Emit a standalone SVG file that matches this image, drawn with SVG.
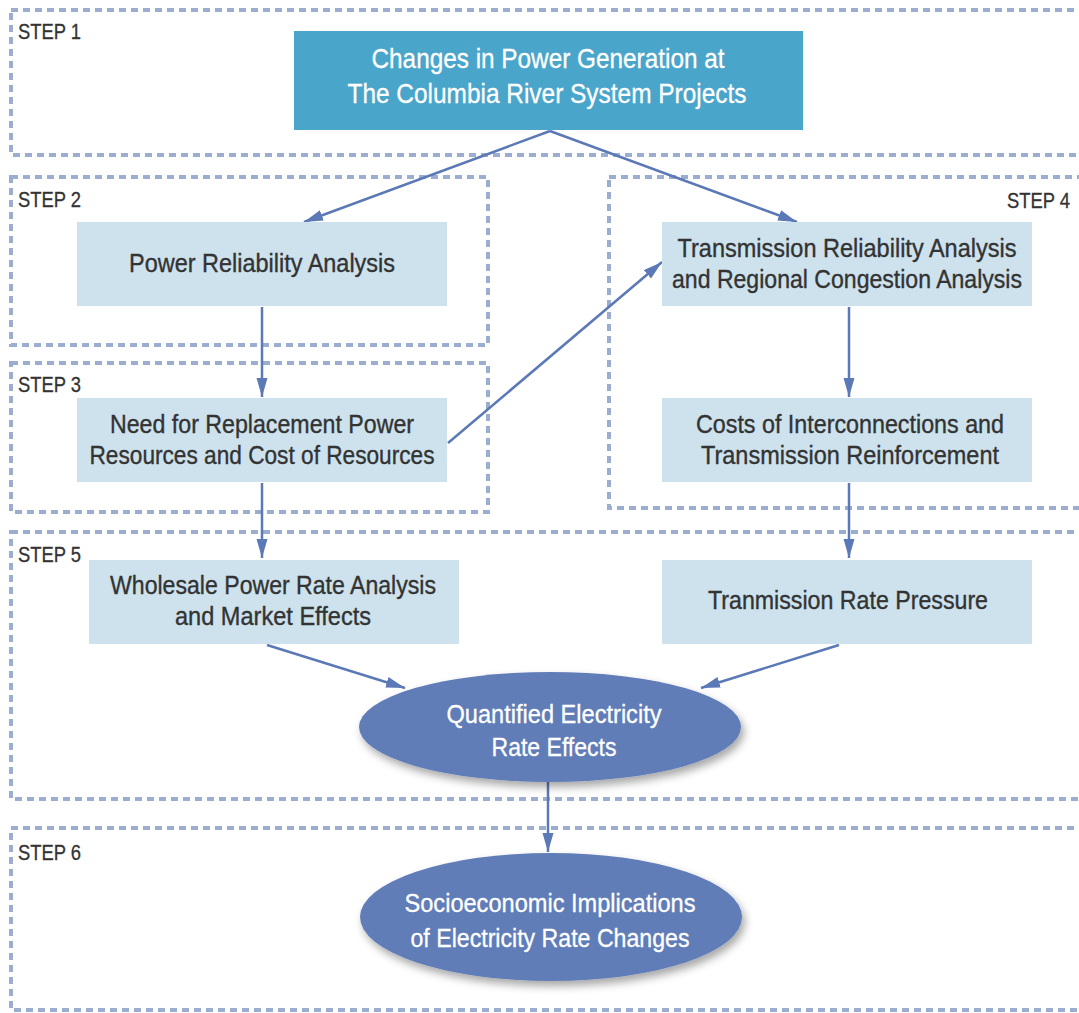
<svg xmlns="http://www.w3.org/2000/svg" width="1079" height="1013" viewBox="0 0 1079 1013">
<defs>
<style>
.step{fill:none;stroke:#9caed0;stroke-width:4;stroke-dasharray:7 5}
.lbl{font-family:"Liberation Sans",Arial,sans-serif;font-size:22px;fill:#333;stroke:#333;stroke-width:0.3}
.box{fill:#cde2ed}
.bt{font-family:"Liberation Sans",Arial,sans-serif;font-size:25px;fill:#333;stroke:#333;stroke-width:0.35;text-anchor:middle}
.wt{font-family:"Liberation Sans",Arial,sans-serif;font-size:26px;fill:#fff;stroke:#fff;stroke-width:0.3;text-anchor:middle}
.ht{font-family:"Liberation Sans",Arial,sans-serif;font-size:28px;fill:#fff;stroke:#fff;stroke-width:0.3;text-anchor:middle}
.ell{fill:#607db8}
.con{fill:none;stroke:#5b79b6;stroke-width:2.5;marker-end:url(#ah)}
</style>
<marker id="ah" markerUnits="userSpaceOnUse" markerWidth="20" markerHeight="12" refX="19" refY="5.5" orient="auto">
<path d="M0,0 L19,5.5 L0,11 z" fill="#5b79b6"/>
</marker>
<filter id="sh" x="-20%" y="-20%" width="140%" height="150%">
<feDropShadow dx="3" dy="5" stdDeviation="4" flood-color="#000" flood-opacity="0.35"/>
</filter>
</defs>
<rect width="1079" height="1013" fill="#fff"/>
<g id="steps">
<rect class="step" x="11" y="10" width="1090" height="145"/>
<rect class="step" x="11" y="177" width="477" height="168"/>
<rect class="step" x="11" y="363" width="477" height="149"/>
<rect class="step" x="609" y="177" width="490" height="331"/>
<rect class="step" x="11" y="532" width="1090" height="267"/>
<rect class="step" x="11" y="828" width="1090" height="182"/>
<text class="lbl" x="18" y="39" textLength="63" lengthAdjust="spacingAndGlyphs">STEP 1</text>
<text class="lbl" x="18" y="207" textLength="63" lengthAdjust="spacingAndGlyphs">STEP 2</text>
<text class="lbl" x="18" y="392" textLength="63" lengthAdjust="spacingAndGlyphs">STEP 3</text>
<text class="lbl" x="1007" y="208" textLength="63" lengthAdjust="spacingAndGlyphs">STEP 4</text>
<text class="lbl" x="18" y="562" textLength="63" lengthAdjust="spacingAndGlyphs">STEP 5</text>
<text class="lbl" x="18" y="860" textLength="63" lengthAdjust="spacingAndGlyphs">STEP 6</text>
</g>
<g id="connectors">
<line class="con" x1="550" y1="131" x2="304" y2="222"/>
<line class="con" x1="550" y1="131" x2="797" y2="222"/>
<line class="con" x1="262" y1="307" x2="262" y2="397"/>
<line class="con" x1="262" y1="483" x2="262" y2="558"/>
<line class="con" x1="448" y1="443" x2="662" y2="262"/>
<line class="con" x1="849" y1="307" x2="849" y2="397"/>
<line class="con" x1="849" y1="483" x2="849" y2="558"/>
<line class="con" x1="267" y1="645" x2="405" y2="688"/>
<line class="con" x1="839" y1="645" x2="701" y2="688"/>
<line class="con" x1="548" y1="782" x2="548" y2="852"/>
</g>
<g id="n1">
<rect x="294" y="31" width="509" height="99" fill="#4aa5cb"/>
<text class="ht" x="548" y="68" textLength="353" lengthAdjust="spacingAndGlyphs">Changes in Power Generation at</text>
<text class="ht" x="547" y="103" textLength="399" lengthAdjust="spacingAndGlyphs">The Columbia River System Projects</text>
</g>
<g id="n2">
<rect class="box" x="77" y="222" width="370" height="84"/>
<text class="bt" x="262" y="272" textLength="266" lengthAdjust="spacingAndGlyphs">Power Reliability Analysis</text>
</g>
<g id="n3">
<rect class="box" x="77" y="398" width="370" height="84"/>
<text class="bt" x="262" y="433" textLength="304" lengthAdjust="spacingAndGlyphs">Need for Replacement Power</text>
<text class="bt" x="262" y="464" textLength="345" lengthAdjust="spacingAndGlyphs">Resources and Cost of Resources</text>
</g>
<g id="n4">
<rect class="box" x="662" y="222" width="370" height="84"/>
<text class="bt" x="847" y="257" textLength="339" lengthAdjust="spacingAndGlyphs">Transmission Reliability Analysis</text>
<text class="bt" x="847" y="288" textLength="350" lengthAdjust="spacingAndGlyphs">and Regional Congestion Analysis</text>
</g>
<g id="n5">
<rect class="box" x="662" y="398" width="370" height="84"/>
<text class="bt" x="850" y="433" textLength="308" lengthAdjust="spacingAndGlyphs">Costs of Interconnections and</text>
<text class="bt" x="850" y="464" textLength="298" lengthAdjust="spacingAndGlyphs">Transmission Reinforcement</text>
</g>
<g id="n6">
<rect class="box" x="89" y="560" width="370" height="84"/>
<text class="bt" x="273" y="594" textLength="326" lengthAdjust="spacingAndGlyphs">Wholesale Power Rate Analysis</text>
<text class="bt" x="273" y="625" textLength="196" lengthAdjust="spacingAndGlyphs">and Market Effects</text>
</g>
<g id="n7">
<rect class="box" x="662" y="560" width="370" height="84"/>
<text class="bt" x="848" y="609" textLength="280" lengthAdjust="spacingAndGlyphs">Tranmission Rate Pressure</text>
</g>
<g id="n8">
<ellipse class="ell" cx="550" cy="727" rx="191" ry="55" filter="url(#sh)"/>
<text class="wt" x="554" y="723" textLength="215" lengthAdjust="spacingAndGlyphs">Quantified Electricity</text>
<text class="wt" x="554" y="756" textLength="125" lengthAdjust="spacingAndGlyphs">Rate Effects</text>
</g>
<g id="n9">
<ellipse class="ell" cx="551" cy="917" rx="191" ry="64" filter="url(#sh)"/>
<text class="wt" x="550" y="912" textLength="291" lengthAdjust="spacingAndGlyphs">Socioeconomic Implications</text>
<text class="wt" x="550" y="947" textLength="279" lengthAdjust="spacingAndGlyphs">of Electricity Rate Changes</text>
</g>
</svg>
